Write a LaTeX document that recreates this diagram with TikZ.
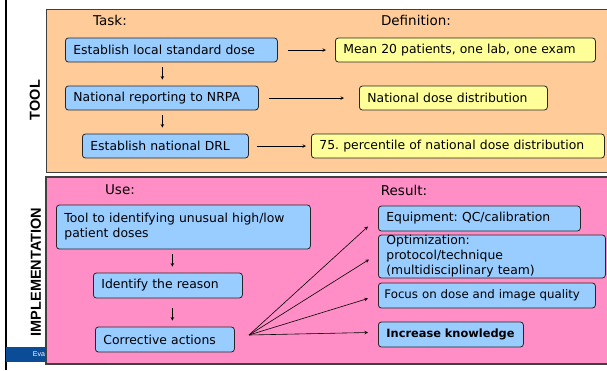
\documentclass[tikz,border=0pt]{standalone}
\usepackage{fontspec}
\setmainfont{DejaVu Sans}
\newfontfamily\labelfont{Liberation Sans}
\frenchspacing
\definecolor{toolbg}{HTML}{FFCC99}
\definecolor{implbg}{HTML}{FF8EC6}
\definecolor{taskblue}{HTML}{99CCFF}
\definecolor{defyellow}{HTML}{FFFF99}
\definecolor{footblue}{HTML}{0B4C96}
\tikzset{
    >=stealth,
    box/.style={draw=black!85, line width=0.8pt, rounded corners=3pt, anchor=west,
        align=left, inner xsep=8pt, inner ysep=1pt, minimum height=24pt,
        font=\fontsize{12.4}{15}\selectfont},
    bluebox/.style={box, fill=taskblue},
    yellowbox/.style={box, fill=defyellow},
    head/.style={font=\fontsize{13.5}{15}\selectfont},
    side/.style={rotate=90, font=\labelfont\bfseries\fontsize{14.5}{16}\selectfont},
    link/.style={->, line width=0.6pt},
}
\begin{document}
\begin{tikzpicture}[x=1pt,y=-1pt]
    \useasboundingbox (0,0) rectangle (607,370);
    % slide frame
    \draw[line width=1.3pt] (6,0) -- (6,370);
    \fill[footblue] (6,347) rectangle (50,362);
    \node[text=white, font=\labelfont\fontsize{7}{8}\selectfont] (eva) at (39,354.5) {Eva};
    \draw[fill=toolbg, draw=black!75, line width=1pt] (46,9) rectangle (612,172);
    \draw[fill=implbg, draw=black!75, line width=1.3pt] (46,177) rectangle (612,364);
    \node[side] (tool) at (35,100) {TOOL};
    \node[side] (impl) at (36,272) {IMPLEMENTATION};

    % tool part
    \node[head] (task) at (110,20) {Task:};
    \node[head] (defn) at (416,20) {Definition:};
    \node[bluebox, text width=196pt] (est) at (65,50) {Establish local standard dose};
    \node[bluebox, text width=177pt] (nrpa) at (65,98) {National reporting to NRPA};
    \node[bluebox, text width=150pt] (drl) at (82,146) {Establish national DRL};
    \node[yellowbox, text width=244pt] (mean) at (335,50) {Mean 20 patients, one lab, one exam};
    \node[yellowbox, text width=172pt] (distr) at (359,98) {National dose distribution};
    \node[yellowbox, text width=277pt] (perc) at (311,146) {75. percentile of national dose distribution};
    \draw[link, shorten <=10pt, shorten >=9pt] (est) -- (mean);
    \draw[link, shorten <=10pt, shorten >=15pt] (nrpa) -- (distr);
    \draw[link, shorten <=8pt, shorten >=5pt] (drl) -- (perc);
    \draw[link, shorten <=5pt, shorten >=6pt] ([xshift=-9pt]est.south) -- ([xshift=-9pt]est.south |- nrpa.north);
    \draw[link, shorten <=5pt, shorten >=6pt] ([xshift=-9pt]est.south |- nrpa.south) -- ([xshift=-9pt]est.south |- drl.north);

    % implementation part
    \node[head] (use) at (120,190) {Use:};
    \node[head] (result) at (404,190) {Result:};
    \node[bluebox, text width=238pt, minimum height=44pt] (tooluse) at (56,227) {Tool to identifying unusual high/low\\patient doses};
    \node[bluebox, text width=133pt, minimum height=25pt] (reason) at (93,285.5) {Identify the reason};
    \node[bluebox, text width=123pt, minimum height=25pt] (corr) at (95,339.5) {Corrective actions};
    \node[bluebox, text width=186pt, minimum height=25pt] (equip) at (378,218.5) {Equipment: QC/calibration};
    \node[bluebox, text width=211pt, minimum height=43pt, inner ysep=0pt] (optim) at (378,256.5) {Optimization:\\protocol/technique\\(multidisciplinary team)};
    \node[bluebox, text width=205pt, inner xsep=6pt, minimum height=25pt, font=\fontsize{11.8}{15}\selectfont] (focus) at (378,295.5) {Focus on dose and image quality};
    \node[bluebox, text width=129pt, minimum height=25pt, font=\bfseries\fontsize{11.4}{15}\selectfont] (know) at (378,334.5) {Increase knowledge};
    \draw[link, shorten <=5pt, shorten >=6pt] ([xshift=-11pt]tooluse.south) -- ([xshift=-11pt]tooluse.south |- reason.north);
    \draw[link, shorten <=10pt, shorten >=6pt] ([xshift=-11pt]tooluse.south |- reason.south) -- ([xshift=-11pt]tooluse.south |- corr.north);
    \coordinate (fan) at (249,335);
    \draw[link] (fan) -- ([xshift=-10pt,yshift=-8pt]equip.west);
    \draw[link] (fan) -- ([xshift=-9pt,yshift=-3pt]optim.west);
    \draw[link] (fan) -- ([xshift=-10pt,yshift=-3pt]focus.west);
    \draw[link] (fan) -- ([xshift=-10pt,yshift=2pt]know.west);
\end{tikzpicture}
\end{document}
